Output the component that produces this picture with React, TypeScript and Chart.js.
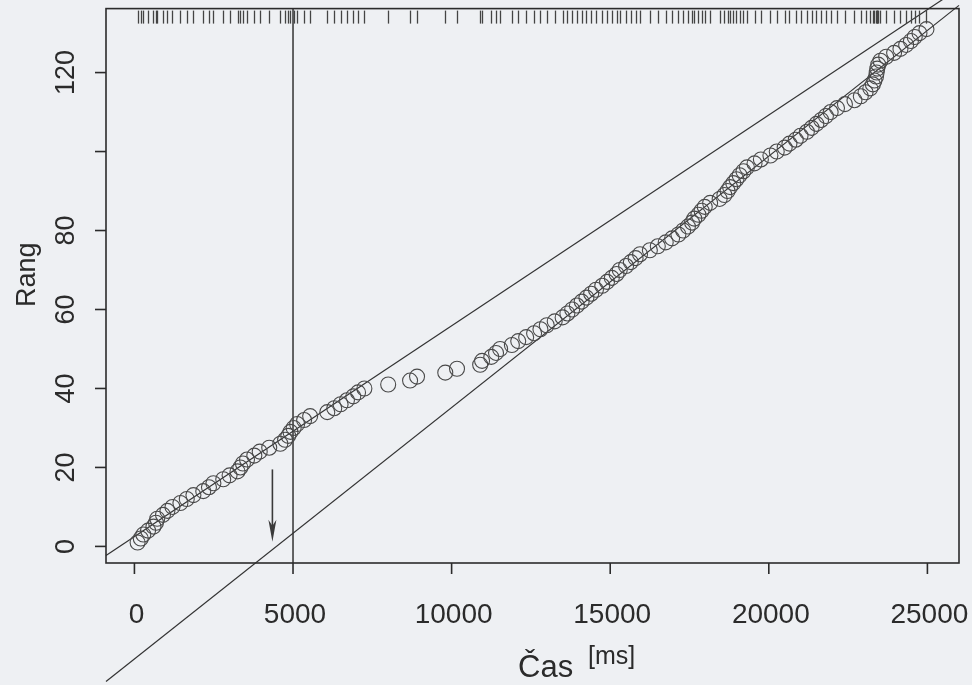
import React, { useEffect, useRef } from "react";
import { Chart, registerables } from "chart.js";

Chart.register(...registerables);

// Sorted event times [ms]; the rank of each event is its position in the list.
const timesMs: number[] = [
  100, 200, 280, 430, 600, 680, 720, 900, 1040, 1200,
  1450, 1650, 1860, 2170, 2350, 2490, 2800, 3000, 3250, 3340,
  3420, 3550, 3780, 3950, 4250, 4600, 4750, 4850, 4920, 5020,
  5130, 5350, 5540, 6080, 6300, 6500, 6700, 6900, 7050, 7250,
  8000, 8690, 8910, 9800, 10170, 10900, 10960, 11250, 11400, 11530,
  11900, 12100, 12350, 12600, 12800, 13000, 13250, 13500, 13650, 13800,
  13950, 14100, 14250, 14400, 14550, 14750, 14900, 15050, 15200, 15300,
  15500, 15650, 15800, 15940, 16250, 16500, 16750, 16950, 17150, 17300,
  17450, 17580, 17650, 17780, 17880, 17980, 18150, 18450, 18600, 18700,
  18780, 18880, 18980, 19080, 19200, 19310, 19550, 19750, 20050, 20250,
  20500, 20650, 20850, 21000, 21200, 21350, 21500, 21650, 21800, 21950,
  22150, 22400, 22700, 22900, 23050, 23200, 23280, 23330, 23380, 23400,
  23420, 23450, 23520, 23700, 23950, 24150, 24330, 24480, 24600, 24750,
  24970,
];

// Reference lines: rank = intercept + slope * time
const earlyFit = { intercept: 2.5, slope: 0.005338 };
const lateFit = { intercept: -28.5, slope: 0.006367 };
const markerTime = 5000;

// Arrow marking the onset estimate
const arrowTime = 4350;
const arrowFromRank = 19.5;
const arrowToRank = 1.2;

// Axis limits and ticks
const xLimits = [-896, 25996];
const yLimits = [-4.2, 136.2];
const xTickValues = [0, 5000, 10000, 15000, 20000, 25000];
const xTickLabels = ["0", "5000", "10000", "15000", "20000", "25000"];
const yTickValues = [0, 20, 40, 60, 80, 100, 120];
const yTickLabels = ["0", "20", "40", "60", "80", "", "120"];

const xTitle = "Čas";
const xUnit = "[ms]";
const yTitle = "Rang";

const paper = "#eef0f3";
const ink = "#2b2b2b";
const FONT = '"Liberation Sans", Arial, Helvetica, sans-serif';

const lineThrough = (fit: { intercept: number; slope: number }) =>
  xLimits.map((x) => ({ x, y: fit.intercept + fit.slope * x }));

const framePlugin = {
  id: "frame",
  beforeDraw(chart: any) {
    const ctx = chart.ctx;
    ctx.save();
    ctx.fillStyle = paper;
    ctx.fillRect(0, 0, chart.width, chart.height);
    ctx.restore();
  },
  afterDatasetsDraw(chart: any) {
    const ctx = chart.ctx;
    const { left, right, top, bottom } = chart.chartArea;
    const xs = chart.scales.x;
    const ys = chart.scales.y;
    ctx.save();

    // rug of event times along the top edge
    ctx.strokeStyle = "#444444";
    ctx.lineWidth = 1.3;
    for (const t of timesMs) {
      const px = Math.round(xs.getPixelForValue(t)) + 0.5;
      ctx.beginPath();
      ctx.moveTo(px, top + 2);
      ctx.lineTo(px, top + 15);
      ctx.stroke();
    }

    // box
    ctx.strokeStyle = ink;
    ctx.lineWidth = 1.6;
    ctx.strokeRect(left, top, right - left, bottom - top);

    // x axis ticks and labels
    ctx.fillStyle = ink;
    ctx.font = `28px ${FONT}`;
    ctx.textAlign = "center";
    ctx.textBaseline = "middle";
    xTickValues.forEach((v, i) => {
      const px = xs.getPixelForValue(v);
      ctx.beginPath();
      ctx.moveTo(px, bottom);
      ctx.lineTo(px, bottom + 11);
      ctx.stroke();
      ctx.fillText(xTickLabels[i], px + 2, bottom + 52);
    });

    // y axis ticks and rotated labels
    ctx.font = `27px ${FONT}`;
    yTickValues.forEach((v, i) => {
      const py = ys.getPixelForValue(v);
      ctx.beginPath();
      ctx.moveTo(left, py);
      ctx.lineTo(left - 11, py);
      ctx.stroke();
      if (yTickLabels[i]) {
        ctx.save();
        ctx.translate(left - 39, py);
        ctx.rotate(-Math.PI / 2);
        ctx.fillText(yTickLabels[i], 0, 0);
        ctx.restore();
      }
    });

    // axis titles
    ctx.font = `27px ${FONT}`;
    ctx.save();
    ctx.translate(left - 78, (top + bottom) / 2 - 11);
    ctx.rotate(-Math.PI / 2);
    ctx.fillText(yTitle, 0, 0);
    ctx.restore();

    ctx.textAlign = "left";
    ctx.textBaseline = "alphabetic";
    ctx.font = `31px ${FONT}`;
    ctx.fillText(xTitle, 518, bottom + 114);
    ctx.font = `25px ${FONT}`;
    ctx.fillText(xUnit, 588, bottom + 101);

    // arrow
    const ax = xs.getPixelForValue(arrowTime);
    const ay0 = ys.getPixelForValue(arrowFromRank);
    const ay1 = ys.getPixelForValue(arrowToRank);
    ctx.strokeStyle = "#3a3a3a";
    ctx.fillStyle = "#3a3a3a";
    ctx.lineWidth = 1.6;
    ctx.beginPath();
    ctx.moveTo(ax, ay0);
    ctx.lineTo(ax, ay1 - 12);
    ctx.stroke();
    ctx.beginPath();
    ctx.moveTo(ax, ay1);
    ctx.lineTo(ax - 4, ay1 - 22);
    ctx.lineTo(ax, ay1 - 16);
    ctx.lineTo(ax + 4, ay1 - 22);
    ctx.closePath();
    ctx.fill();

    ctx.restore();
  },
};

export default function App() {
  const canvasRef = useRef<HTMLCanvasElement | null>(null);

  useEffect(() => {
    document.body.style.margin = "0";
    const canvas = canvasRef.current;
    if (!canvas) return;

    const points = timesMs.map((t, i) => ({ x: t, y: i + 1 }));

    const chart = new Chart(canvas, {
      type: "scatter",
      data: {
        datasets: [
          {
            data: points,
            pointStyle: "circle",
            pointRadius: 7.5,
            pointBorderWidth: 1.1,
            borderColor: "#4a4a4a",
            backgroundColor: "rgba(0,0,0,0)",
            pointBackgroundColor: "rgba(0,0,0,0)",
            pointBorderColor: "#4a4a4a",
          },
          {
            data: lineThrough(earlyFit),
            showLine: true,
            pointRadius: 0,
            borderColor: "#333333",
            borderWidth: 1.2,
            clip: false,
          },
          {
            data: lineThrough(lateFit),
            showLine: true,
            pointRadius: 0,
            borderColor: "#333333",
            borderWidth: 1.2,
            clip: false,
          },
          {
            data: [
              { x: markerTime, y: yLimits[0] },
              { x: markerTime, y: yLimits[1] },
            ],
            showLine: true,
            pointRadius: 0,
            borderColor: "#333333",
            borderWidth: 1.5,
          },
        ],
      },
      options: {
        responsive: false,
        animation: false,
        events: [],
        layout: { padding: { left: 106, top: 6, right: 13, bottom: 122 } },
        plugins: {
          legend: { display: false },
          tooltip: { enabled: false },
        },
        scales: {
          x: { type: "linear", min: xLimits[0], max: xLimits[1], display: false },
          y: { type: "linear", min: yLimits[0], max: yLimits[1], display: false },
        },
      },
      plugins: [framePlugin],
    });

    return () => chart.destroy();
  }, []);

  return (
    <div style={{ width: 972, height: 685, background: paper }}>
      <canvas ref={canvasRef} width={972} height={685} />
    </div>
  );
}
